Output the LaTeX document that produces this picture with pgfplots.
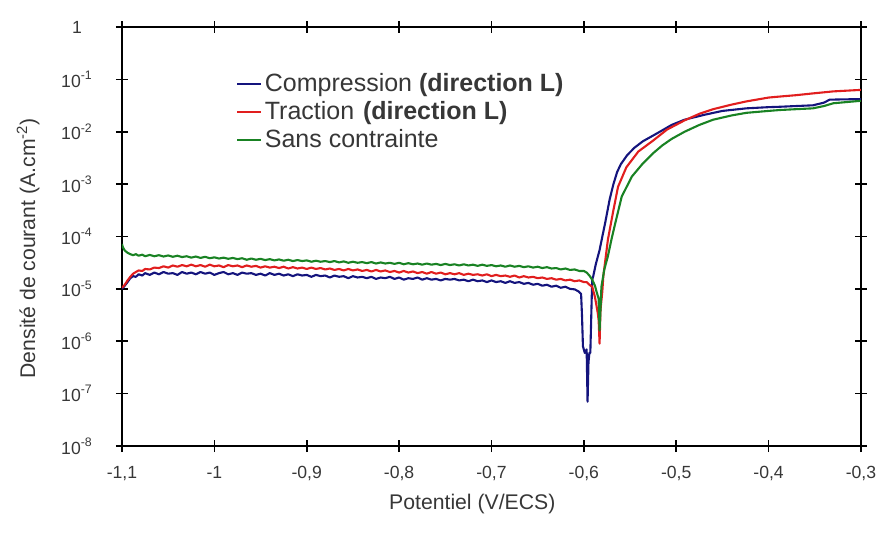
\documentclass[border=0pt]{standalone}
\usepackage{pgfplots}
\pgfplotsset{compat=1.18}
\usepackage{fontspec}
\setmainfont{Liberation Sans}
\definecolor{cblue}{RGB}{20,20,125}
\definecolor{cred}{RGB}{225,30,30}
\definecolor{cgreen}{RGB}{25,130,35}
\definecolor{txt}{RGB}{55,55,55}
\begin{document}
\begin{tikzpicture}
\path[use as bounding box] (-61pt,-43pt) rectangle (378pt,223pt);
\begin{axis}[
  scale only axis, width=369.5pt, height=209.5pt,
  xmin=-1.1, xmax=-0.3, ymin=1e-8, ymax=1, ymode=log,
  xtick={-1.1,-1,-0.9,-0.8,-0.7,-0.6,-0.5,-0.4,-0.3},
  xticklabels={{-1,1},{-1},{-0,9},{-0,8},{-0,7},{-0,6},{-0,5},{-0,4},{-0,3}},
  ytick={1e-8,1e-7,1e-6,1e-5,1e-4,1e-3,1e-2,1e-1,1},
  yticklabels={{10\textsuperscript{-8}},{10\textsuperscript{-7}},{10\textsuperscript{-6}},{10\textsuperscript{-5}},{10\textsuperscript{-4}},{10\textsuperscript{-3}},{10\textsuperscript{-2}},{10\textsuperscript{-1}},{1}},
  yminorticks=false, xminorticks=false,
  tick pos=both, xticklabel pos=lower, yticklabel pos=left,
  tick align=center, major tick length=6pt,
  axis line style={line width=0.8pt, black},
  every tick/.style={line width=0.8pt, black},
  xticklabel style={font=\fontsize{8.8}{10}\selectfont, text=txt, anchor=base, yshift=-13pt},
  yticklabel style={font=\fontsize{8.8}{10}\selectfont, text=txt, anchor=center, xshift=-19.5pt},
  xlabel={Potentiel (V/ECS)},
  ylabel={Densité de courant (A.cm\textsuperscript{-2})},
  xlabel style={font=\fontsize{10.6}{12}\selectfont, text=txt, at={(axis description cs:0.474,-0.138)}, anchor=center},
  ylabel style={font=\fontsize{10.6}{12}\selectfont, text=txt, at={(axis description cs:-0.127,0.472)}, anchor=center},
  legend cell align=left,
  legend style={draw=none, fill=none, font=\fontsize{12.5}{14}\selectfont, text=txt,
    at={(axis description cs:0.146,0.907)}, anchor=north west,
    row sep=1pt, nodes={inner sep=1.3pt}},
  legend image code/.code={\draw[#1, line width=1pt] (0pt,0pt) -- (12pt,0pt);},
  every axis plot/.append style={line width=1.05pt, line join=round},
]
\addplot[cblue] table {
-1.100 1.0e-5
-1.097 1.15e-5
-1.094 1.35e-5
-1.091 1.6e-5
-1.088 1.75e-5
-1.085 1.7e-5
-1.082 1.9e-5
-1.078 1.8e-5
-1.075 2.0e-5
-1.070 1.85e-5
-1.065 2.05e-5
-1.060 1.9e-5
-1.055 2.1e-5
-1.050 1.95e-5
-1.045 2.0e-5
-1.040 1.85e-5
-1.035 2.1e-5
-1.030 1.95e-5
-1.025 2.05e-5
-1.020 1.9e-5
-1.015 2.1e-5
-1.010 1.95e-5
-1.005 2.05e-5
-1.000 1.85e-5
-0.995 2.0e-5
-0.990 2.1e-5
-0.985 1.9e-5
-0.980 2.0e-5
-0.975 1.85e-5
-0.970 2.05e-5
-0.965 1.95e-5
-0.960 2.0e-5
-0.955 1.85e-5
-0.950 1.95e-5
-0.945 1.8e-5
-0.940 2.0e-5
-0.935 1.85e-5
-0.930 1.95e-5
-0.925 1.8e-5
-0.920 1.9e-5
-0.915 1.75e-5
-0.910 1.9e-5
-0.905 1.8e-5
-0.900 1.85e-5
-0.895 1.7e-5
-0.890 1.85e-5
-0.885 1.75e-5
-0.880 1.8e-5
-0.875 1.65e-5
-0.870 1.8e-5
-0.865 1.7e-5
-0.860 1.75e-5
-0.855 1.6e-5
-0.850 1.75e-5
-0.845 1.65e-5
-0.840 1.7e-5
-0.835 1.6e-5
-0.830 1.7e-5
-0.825 1.55e-5
-0.820 1.65e-5
-0.815 1.6e-5
-0.810 1.7e-5
-0.805 1.55e-5
-0.800 1.65e-5
-0.795 1.5e-5
-0.790 1.6e-5
-0.785 1.55e-5
-0.780 1.65e-5
-0.775 1.5e-5
-0.770 1.6e-5
-0.765 1.5e-5
-0.760 1.55e-5
-0.755 1.45e-5
-0.750 1.55e-5
-0.745 1.5e-5
-0.740 1.55e-5
-0.735 1.45e-5
-0.730 1.5e-5
-0.725 1.4e-5
-0.720 1.5e-5
-0.715 1.4e-5
-0.710 1.45e-5
-0.705 1.35e-5
-0.700 1.45e-5
-0.695 1.35e-5
-0.690 1.4e-5
-0.685 1.3e-5
-0.680 1.4e-5
-0.675 1.3e-5
-0.670 1.35e-5
-0.665 1.25e-5
-0.660 1.3e-5
-0.655 1.2e-5
-0.650 1.25e-5
-0.645 1.15e-5
-0.640 1.2e-5
-0.635 1.1e-5
-0.630 1.15e-5
-0.625 1.05e-5
-0.620 1.1e-5
-0.615 1.0e-5
-0.610 9.8e-6
-0.606 9.0e-6
-0.603 8.0e-6
-0.602 3.0e-6
-0.601 8e-7
-0.599 6e-7
-0.597 7e-7
-0.596 7e-8
-0.595 4e-7
-0.594 6e-7
-0.593 6e-7
-0.592 3e-6
-0.591 1.5e-5
-0.590 1.7e-5
-0.587 3.0e-5
-0.583 5.5e-5
-0.580 1.0e-4
-0.577 1.8e-4
-0.572 5.2e-4
-0.568 1.0e-3
-0.564 1.7e-3
-0.560 2.4e-3
-0.553 3.6e-3
-0.545 5.0e-3
-0.536 6.6e-3
-0.527 8.1e-3
-0.520 9.5e-3
-0.505 1.35e-2
-0.491 1.7e-2
-0.470 2.1e-2
-0.450 2.5e-2
-0.424 2.8e-2
-0.400 2.95e-2
-0.388 3.0e-2
-0.370 3.1e-2
-0.352 3.2e-2
-0.340 3.6e-2
-0.334 4.1e-2
-0.320 4.15e-2
-0.300 4.2e-2
};
\addlegendentry{Compression \textbf{(direction L)}}
\addplot[cred] table {
-1.100 1.05e-5
-1.097 1.2e-5
-1.094 1.45e-5
-1.091 1.7e-5
-1.088 1.95e-5
-1.085 2.1e-5
-1.082 2.25e-5
-1.078 2.2e-5
-1.075 2.4e-5
-1.070 2.35e-5
-1.065 2.55e-5
-1.060 2.5e-5
-1.055 2.7e-5
-1.050 2.55e-5
-1.045 2.8e-5
-1.040 2.65e-5
-1.035 2.85e-5
-1.030 2.7e-5
-1.025 2.9e-5
-1.020 2.7e-5
-1.015 2.85e-5
-1.010 2.65e-5
-1.005 2.9e-5
-1.000 2.7e-5
-0.995 2.8e-5
-0.990 2.6e-5
-0.985 2.85e-5
-0.980 2.7e-5
-0.975 2.8e-5
-0.970 2.6e-5
-0.965 2.8e-5
-0.960 2.65e-5
-0.955 2.75e-5
-0.950 2.55e-5
-0.945 2.7e-5
-0.940 2.55e-5
-0.935 2.65e-5
-0.930 2.5e-5
-0.925 2.65e-5
-0.920 2.45e-5
-0.915 2.6e-5
-0.910 2.45e-5
-0.905 2.55e-5
-0.900 2.4e-5
-0.895 2.55e-5
-0.890 2.4e-5
-0.885 2.5e-5
-0.880 2.35e-5
-0.875 2.45e-5
-0.870 2.3e-5
-0.865 2.4e-5
-0.860 2.25e-5
-0.855 2.4e-5
-0.850 2.25e-5
-0.845 2.35e-5
-0.840 2.2e-5
-0.835 2.3e-5
-0.830 2.15e-5
-0.825 2.3e-5
-0.820 2.15e-5
-0.815 2.25e-5
-0.810 2.1e-5
-0.805 2.2e-5
-0.800 2.05e-5
-0.795 2.2e-5
-0.790 2.05e-5
-0.785 2.15e-5
-0.780 2.0e-5
-0.775 2.1e-5
-0.770 1.95e-5
-0.765 2.1e-5
-0.760 1.95e-5
-0.755 2.05e-5
-0.750 1.9e-5
-0.745 2.0e-5
-0.740 1.9e-5
-0.735 2.0e-5
-0.730 1.85e-5
-0.725 1.95e-5
-0.720 1.85e-5
-0.715 1.9e-5
-0.710 1.8e-5
-0.705 1.9e-5
-0.700 1.75e-5
-0.695 1.85e-5
-0.690 1.75e-5
-0.685 1.8e-5
-0.680 1.7e-5
-0.675 1.8e-5
-0.670 1.65e-5
-0.665 1.75e-5
-0.660 1.65e-5
-0.655 1.7e-5
-0.650 1.6e-5
-0.645 1.65e-5
-0.640 1.55e-5
-0.635 1.6e-5
-0.630 1.5e-5
-0.625 1.55e-5
-0.620 1.45e-5
-0.615 1.5e-5
-0.610 1.4e-5
-0.605 1.45e-5
-0.600 1.35e-5
-0.597 1.35e-5
-0.594 1.2e-5
-0.591 1.1e-5
-0.588 7e-6
-0.585 3.5e-6
-0.584 2.5e-6
-0.583 9e-7
-0.582 4e-6
-0.580 9e-6
-0.579 1.7e-5
-0.574 8.7e-5
-0.568 3.2e-4
-0.563 8.9e-4
-0.554 2.1e-3
-0.541 4.2e-3
-0.525 6.8e-3
-0.510 1.1e-2
-0.491 1.65e-2
-0.475 2.2e-2
-0.460 2.7e-2
-0.440 3.3e-2
-0.424 3.8e-2
-0.400 4.5e-2
-0.388 4.7e-2
-0.370 5.0e-2
-0.352 5.4e-2
-0.330 5.9e-2
-0.300 6.3e-2
};
\addlegendentry{Traction\hspace{0.35em}\textbf{(direction L)}}
\addplot[cgreen] table {
-1.100 7.2e-5
-1.099 6.2e-5
-1.097 5.4e-5
-1.094 4.9e-5
-1.091 4.6e-5
-1.088 4.4e-5
-1.085 4.6e-5
-1.082 4.3e-5
-1.078 4.5e-5
-1.075 4.2e-5
-1.070 4.45e-5
-1.065 4.2e-5
-1.060 4.4e-5
-1.055 4.15e-5
-1.050 4.35e-5
-1.045 4.1e-5
-1.040 4.3e-5
-1.035 4.05e-5
-1.030 4.2e-5
-1.025 3.95e-5
-1.020 4.15e-5
-1.015 3.9e-5
-1.010 4.1e-5
-1.005 3.85e-5
-1.000 4.0e-5
-0.995 3.8e-5
-0.990 3.95e-5
-0.985 3.75e-5
-0.980 3.9e-5
-0.975 3.7e-5
-0.970 3.85e-5
-0.965 3.6e-5
-0.960 3.8e-5
-0.955 3.6e-5
-0.950 3.75e-5
-0.945 3.55e-5
-0.940 3.7e-5
-0.935 3.5e-5
-0.930 3.65e-5
-0.925 3.45e-5
-0.920 3.6e-5
-0.915 3.4e-5
-0.910 3.55e-5
-0.905 3.4e-5
-0.900 3.5e-5
-0.895 3.3e-5
-0.890 3.45e-5
-0.885 3.3e-5
-0.880 3.4e-5
-0.875 3.25e-5
-0.870 3.4e-5
-0.865 3.2e-5
-0.860 3.35e-5
-0.855 3.15e-5
-0.850 3.3e-5
-0.845 3.15e-5
-0.840 3.25e-5
-0.835 3.1e-5
-0.830 3.25e-5
-0.825 3.05e-5
-0.820 3.2e-5
-0.815 3.05e-5
-0.810 3.15e-5
-0.805 3.0e-5
-0.800 3.15e-5
-0.795 2.95e-5
-0.790 3.1e-5
-0.785 2.95e-5
-0.780 3.05e-5
-0.775 2.9e-5
-0.770 3.05e-5
-0.765 2.9e-5
-0.760 3.0e-5
-0.755 2.85e-5
-0.750 3.0e-5
-0.745 2.85e-5
-0.740 2.95e-5
-0.735 2.8e-5
-0.730 2.95e-5
-0.725 2.8e-5
-0.720 2.9e-5
-0.715 2.75e-5
-0.710 2.9e-5
-0.705 2.75e-5
-0.700 2.85e-5
-0.695 2.7e-5
-0.690 2.8e-5
-0.685 2.65e-5
-0.680 2.8e-5
-0.675 2.65e-5
-0.670 2.75e-5
-0.665 2.6e-5
-0.660 2.7e-5
-0.655 2.55e-5
-0.650 2.65e-5
-0.645 2.5e-5
-0.640 2.6e-5
-0.635 2.45e-5
-0.630 2.5e-5
-0.625 2.35e-5
-0.620 2.45e-5
-0.615 2.3e-5
-0.610 2.35e-5
-0.605 2.2e-5
-0.600 2.2e-5
-0.597 2.05e-5
-0.594 1.8e-5
-0.591 1.5e-5
-0.588 1.15e-5
-0.586 8.5e-6
-0.584 6.5e-6
-0.583 1.6e-6
-0.582 4e-6
-0.581 1.1e-5
-0.578 2.3e-5
-0.574 4.2e-5
-0.570 9.0e-5
-0.566 1.8e-4
-0.559 5.8e-4
-0.548 1.4e-3
-0.536 2.5e-3
-0.525 3.9e-3
-0.515 5.5e-3
-0.505 7.3e-3
-0.491 1.0e-2
-0.475 1.35e-2
-0.460 1.7e-2
-0.440 2.05e-2
-0.424 2.3e-2
-0.400 2.5e-2
-0.388 2.6e-2
-0.370 2.7e-2
-0.352 2.8e-2
-0.340 3.1e-2
-0.330 3.5e-2
-0.315 3.7e-2
-0.300 3.9e-2
};
\addlegendentry{Sans contrainte}
\end{axis}
\end{tikzpicture}
\end{document}
